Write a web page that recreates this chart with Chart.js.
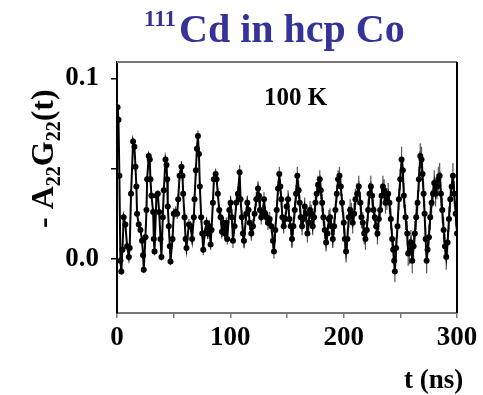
<!DOCTYPE html>
<html>
<head>
<meta charset="utf-8">
<script src="https://cdn.jsdelivr.net/npm/chart.js@4"></script>
<style>
  body { margin: 0; background: #fff; }
  canvas { display: block; }
</style>
</head>
<body>
<canvas id="pacChart" width="483" height="395"></canvas>
<script>
// time channels (ns) and -A22G22(t)
var timeNs = [
  0.5, 1.3, 2.1, 3.0, 3.8, 4.8, 5.9, 7.4, 8.9, 10.4, 11.2, 12.4, 14.2, 15.4, 16.3, 17.1, 17.7, 19.2, 20.7, 22.1,
  23.0, 23.6, 25.1, 26.0, 26.6, 28.0, 28.9, 29.5, 30.4, 31.9, 32.5, 33.1, 34.8, 36.0, 37.2, 38.4, 39.2, 40.4, 41.3, 42.8,
  43.7, 44.3, 44.8, 45.7, 46.6, 47.2, 49.0, 50.1, 51.6, 53.1, 54.0, 55.2, 56.9, 57.8, 58.4, 59.6, 60.5, 61.3, 63.4, 64.9,
  66.3, 67.8, 68.4, 69.6, 70.5, 71.4, 72.3, 73.1, 74.3, 75.2, 76.1, 77.3, 79.0, 80.2, 81.4, 82.6, 83.4, 84.6, 85.5, 87.0,
  87.9, 89.0, 90.2, 91.4, 92.6, 93.8, 95.2, 96.4, 97.3, 99.1, 100.2, 101.4, 102.3, 103.7, 105.2, 106.7, 108.2, 109.0, 110.2, 111.1,
  112.0, 114.1, 115.0, 116.1, 117.0, 118.5, 120.0, 121.4, 122.9, 124.4, 125.3, 126.1, 127.3, 128.8, 129.7, 130.9, 132.0, 133.2, 134.7, 136.2,
  137.6, 138.5, 139.7, 140.9, 142.1, 143.2, 144.1, 145.0, 145.9, 147.1, 148.5, 149.7, 150.9, 152.1, 153.3, 154.4, 155.6, 156.8, 158.0, 159.1,
  160.3, 161.2, 162.1, 163.3, 164.5, 165.6, 166.8, 168.0, 169.2, 170.3, 171.5, 172.7, 173.9, 175.1, 176.2, 177.4, 178.9, 179.8, 181.0, 182.1,
  183.3, 184.5, 185.7, 186.9, 188.0, 189.2, 190.4, 191.6, 192.7, 193.9, 195.1, 196.3, 197.5, 198.6, 200.1, 201.0, 202.1, 203.3, 204.5, 205.7,
  206.9, 208.0, 209.2, 210.4, 211.9, 213.3, 214.8, 215.7, 216.9, 218.1, 219.2, 220.4, 221.6, 222.8, 224.0, 225.1, 226.3, 227.5, 228.7, 229.8,
  231.0, 232.2, 233.4, 234.6, 235.7, 236.9, 238.1, 239.3, 240.4, 241.6, 242.8, 243.7, 244.6, 245.2, 246.3, 247.5, 248.7, 249.9, 251.1, 252.2,
  253.1, 254.6, 256.1, 256.9, 258.1, 259.3, 260.5, 261.7, 262.8, 264.0, 265.2, 266.4, 267.6, 268.7, 269.6, 270.5, 271.4, 272.3, 273.2, 274.0,
  275.2, 276.4, 277.6, 278.8, 279.9, 281.1, 282.3, 283.5, 284.7, 285.8, 287.0, 288.2, 289.4, 290.5, 291.7, 292.9, 294.1, 295.3, 296.4, 297.6,
  298.8, 300.0
];
var asym = [
  0.084, 0.077, 0.046, -0.001, -0.007, 0.005, 0.023, 0.019, 0.007, 0.001, 0.006, 0.036, 0.065, 0.062, 0.051, 0.040, 0.025, 0.019, 0.016, 0.010,
  0.002, -0.006, 0.012, 0.027, 0.044, 0.057, 0.055, 0.044, 0.035, 0.026, 0.011, 0.004, 0.035, 0.036, 0.026, 0.011, 0.001, 0.023, 0.038, 0.055,
  0.052, 0.044, 0.029, 0.018, 0.007, -0.0015, 0.011, 0.025, 0.026, 0.025, 0.033, 0.046, 0.051, 0.046, 0.036, 0.023, 0.011, 0.006, 0.019, 0.018,
  0.011, 0.023, 0.033, 0.049, 0.061, 0.068, 0.058, 0.040, 0.023, 0.014, 0.005, 0.014, 0.020, 0.014, 0.018, 0.008, 0.016, 0.031, 0.044, 0.047,
  0.044, 0.036, 0.027, 0.023, 0.015, 0.020, 0.014, 0.020, 0.011, 0.027, 0.031, 0.023, 0.010, 0.018, 0.031, 0.036, 0.048, 0.033, 0.023, 0.014,
  0.010, 0.025, 0.031, 0.027, 0.020, 0.014, 0.018, 0.025, 0.033, 0.039, 0.035, 0.027, 0.023, 0.026, 0.033, 0.025, 0.023, 0.020, 0.022, 0.018,
  0.010, 0.004, 0.016, 0.027, 0.039, 0.047, 0.040, 0.033, 0.023, 0.018, 0.022, 0.029, 0.033, 0.022, 0.018, 0.011, 0.018, 0.027, 0.036, 0.046,
  0.038, 0.031, 0.023, 0.018, 0.022, 0.029, 0.025, 0.014, 0.020, 0.027, 0.025, 0.018, 0.023, 0.031, 0.036, 0.041, 0.044, 0.038, 0.031, 0.023,
  0.016, 0.009, 0.014, 0.022, 0.023, 0.018, 0.011, 0.018, 0.027, 0.036, 0.044, 0.046, 0.040, 0.031, 0.020, 0.011, 0.004, 0.011, 0.023, 0.027,
  0.025, 0.020, 0.025, 0.033, 0.036, 0.040, 0.031, 0.023, 0.020, 0.014, 0.011, 0.016, 0.027, 0.036, 0.040, 0.035, 0.027, 0.023, 0.018, 0.014,
  0.022, 0.027, 0.035, 0.040, 0.038, 0.031, 0.033, 0.036, 0.031, 0.022, 0.011, 0.005, -0.001, -0.007, 0.006, 0.018, 0.033, 0.044, 0.055, 0.049,
  0.035, 0.023, 0.014, 0.003, 0.004, 0.009, -0.001, 0.007, 0.014, 0.023, 0.031, 0.044, 0.057, 0.055, 0.047, 0.036, 0.025, 0.011, -0.001, 0.005,
  0.012, 0.023, 0.031, 0.036, 0.042, 0.036, 0.040, 0.044, 0.046, 0.036, 0.027, 0.016, 0.007, 0.001, 0.009, 0.022, 0.033, 0.040, 0.046, 0.036,
  0.025, 0.014
];
// error bar half-length per 50 ns block
var errBlockStart = [0, 50, 100, 150, 200, 250];
var errHalf = [0.002, 0.003, 0.004, 0.005, 0.006, 0.007];

var xTicks = [0, 50, 100, 150, 200, 250, 300];
var xLabelled = [0, 100, 200, 300];
var yTicks = [0, 0.05, 0.1];
var yLabelled = [0, 0.1];

var serif = "'Liberation Serif', 'Times New Roman', serif";

function errAt(t) {
  var e = errHalf[0];
  for (var k = 0; k < errBlockStart.length; k++) {
    if (t >= errBlockStart[k]) e = errHalf[k];
  }
  return e;
}

var points = timeNs.map(function (t, i) { return { x: t, y: asym[i] }; });

var errorBars = {
  id: 'errorBars',
  beforeDatasetsDraw: function (chart) {
    var ctx = chart.ctx, xs = chart.scales.x, ys = chart.scales.y;
    ctx.save();
    ctx.strokeStyle = '#555';
    ctx.lineWidth = 1.2;
    ctx.beginPath();
    timeNs.forEach(function (t, i) {
      var px = xs.getPixelForValue(t);
      var e = errAt(t);
      ctx.moveTo(px, ys.getPixelForValue(asym[i] + e));
      ctx.lineTo(px, ys.getPixelForValue(asym[i] - e));
    });
    ctx.stroke();
    ctx.restore();
  }
};

var decorations = {
  id: 'decorations',
  afterDraw: function (chart) {
    var ctx = chart.ctx, a = chart.chartArea;
    ctx.save();
    // top and right frame
    ctx.lineWidth = 2;
    ctx.strokeStyle = '#777';
    ctx.beginPath();
    ctx.moveTo(a.left, a.top);
    ctx.lineTo(a.right, a.top);
    ctx.stroke();
    ctx.strokeStyle = '#000';
    ctx.beginPath();
    ctx.moveTo(a.right, a.top);
    ctx.lineTo(a.right, a.bottom);
    ctx.stroke();

    // title with superscript
    ctx.fillStyle = '#333399';
    ctx.textBaseline = 'alphabetic';
    ctx.textAlign = 'left';
    ctx.font = 'bold 23px ' + serif;
    ctx.fillText('111', 144, 26);
    ctx.font = 'bold 40px ' + serif;
    ctx.fillText('Cd in hcp Co', 179, 42);

    // temperature label
    ctx.fillStyle = '#000';
    ctx.font = 'bold 25px ' + serif;
    ctx.fillText('100 K', 264, 105);

    // x axis title
    ctx.font = 'bold 27px ' + serif;
    ctx.fillText('t (ns)', 404, 388);

    // y axis title, rotated, with subscripts
    ctx.translate(53, 228);
    ctx.rotate(-Math.PI / 2);
    var big = 'bold 32px ' + serif, small = 'bold 20px ' + serif;
    var parts = [['- A', big, 0], ['22', small, 7], ['G', big, 0], ['22', small, 7], ['(t)', big, 0]];
    var x = 0;
    parts.forEach(function (p) {
      ctx.font = p[1];
      ctx.fillText(p[0], x, p[2]);
      x += ctx.measureText(p[0]).width;
    });
    ctx.restore();
  }
};

var chart = new Chart(document.getElementById('pacChart').getContext('2d'), {
  type: 'scatter',
  data: {
    datasets: [{
      data: points,
      showLine: true,
      borderColor: '#000',
      borderWidth: 2,
      backgroundColor: '#000',
      pointRadius: 3,
      pointBorderWidth: 0,
      tension: 0
    }]
  },
  options: {
    responsive: false,
    animation: false,
    layout: { padding: { top: 62, right: 26, left: 0, bottom: 0 } },
    plugins: { legend: { display: false }, title: { display: false }, tooltip: { enabled: false } },
    scales: {
      x: {
        type: 'linear',
        min: 0,
        max: 300,
        afterBuildTicks: function (s) { s.ticks = xTicks.map(function (v) { return { value: v }; }); },
        afterFit: function (s) { s.height = 82; },
        ticks: {
          autoSkip: false,
          maxRotation: 0,
          padding: 4,
          color: '#000',
          font: { family: serif, size: 27, weight: 'bold' },
          callback: function (v) { return xLabelled.indexOf(v) >= 0 ? String(v) : ''; }
        },
        grid: { drawOnChartArea: false, tickLength: 5, color: '#777', lineWidth: 1.5 },
        border: { color: '#777', width: 2 }
      },
      y: {
        type: 'linear',
        min: -0.03,
        max: 0.109,
        afterBuildTicks: function (s) { s.ticks = yTicks.map(function (v) { return { value: v }; }); },
        afterFit: function (s) { s.width = 117; },
        ticks: {
          autoSkip: false,
          padding: 12,
          color: '#000',
          font: { family: serif, size: 27, weight: 'bold' },
          callback: function (v) { return yLabelled.indexOf(v) >= 0 ? v.toFixed(1) : ''; }
        },
        grid: { drawOnChartArea: false, tickLength: 6, color: '#000', lineWidth: 1.5 },
        border: { color: '#000', width: 2 }
      }
    }
  },
  plugins: [errorBars, decorations]
});
</script>
</body>
</html>
